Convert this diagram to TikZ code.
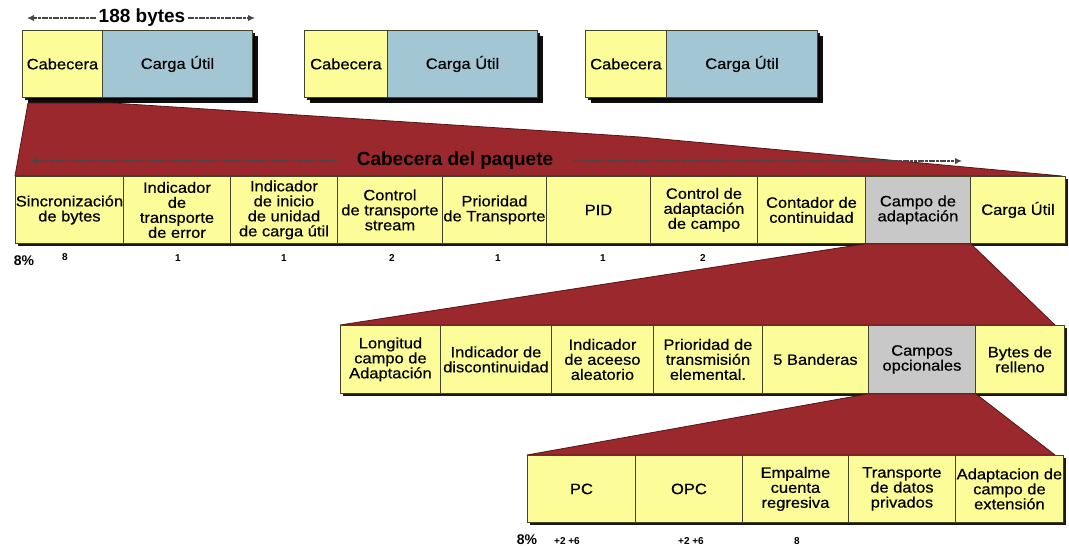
\documentclass[tikz,border=0pt]{standalone}
\usepackage{fontspec}
\setmainfont{Liberation Sans}
\newfontfamily\fieldfont{Liberation Sans}[FakeStretch=1.1,FakeBold=0.5]
\usetikzlibrary{arrows.meta,shadows,calc}

\definecolor{fieldyellow}{RGB}{252,252,152}
\definecolor{payloadblue}{RGB}{163,198,212}
\definecolor{optgray}{RGB}{200,200,200}
\definecolor{zoomred}{RGB}{154,40,44}
\definecolor{edgeolive}{RGB}{68,68,44}

% \fieldbox{style}{name}{left}{top}{width}{height}{text}
\newcommand{\fieldbox}[7]{%
  \node[#1, minimum width=#5pt, minimum height=#6pt, anchor=north west]
    (#2) at (#3,#4) {#7};}

\begin{document}
\begin{tikzpicture}[x=1pt,y=-1pt,
  field/.style={draw=edgeolive, line width=0.9pt, fill=fieldyellow,
    inner sep=0pt, align=center,
    font=\fieldfont\fontsize{15}{15}\selectfont,
    drop shadow={shadow xshift=3pt, shadow yshift=-3pt, fill=black, opacity=0.9}},
  optfield/.style={field, fill=optgray},
  pktbox/.style={field, drop shadow={shadow xshift=6pt, shadow yshift=-6pt, fill=black, opacity=0.95}},
  pktload/.style={pktbox, fill=payloadblue},
  title/.style={font=\bfseries\fontsize{19}{19}\selectfont, inner sep=2pt},
  span/.style={line width=2.6pt, draw=black!72, dash pattern=on 3pt off 0.7pt,
    -{Latex[length=7pt,width=6.5pt]}},
  zoom/.style={fill=zoomred, draw=zoomred!55!black, line width=0.8pt, line join=round},
  count/.style={font=\bfseries\fontsize{10}{10}\selectfont, inner sep=0pt},
  pct/.style={font=\bfseries\fontsize{14}{14}\selectfont, inner sep=0pt}]

\useasboundingbox (0,0) rectangle (1069,546);
\fill[white] (0,0) rectangle (1069,546);

% ---- three transport packets --------------------------------------------
\fieldbox{pktbox}{h1}{22}{30}{80}{67}{Cabecera}
\fieldbox{pktload}{p1}{102}{30}{150}{67}{Carga Útil}
\fieldbox{pktbox}{h2}{304}{30}{83}{67}{Cabecera}
\fieldbox{pktload}{p2}{387}{30}{150}{67}{Carga Útil}
\fieldbox{pktbox}{h3}{585}{30}{81}{67}{Cabecera}
\fieldbox{pktload}{p3}{666}{30}{151}{67}{Carga Útil}

% packet length
\node[title, anchor=base] (bytes) at (142,23) {188 bytes};
\coordinate (bytesL) at (27,18);
\coordinate (bytesR) at (255,18);
\draw[span] (bytes.west |- bytesL) -- (bytesL);
\draw[span] (bytes.east |- bytesR) -- (bytesR);

% ---- header fields -------------------------------------------------------
% zoom wedge from packet header to header fields (drawn first, under boxes)
\coordinate (w1a) at (28,103);
\coordinate (w1b) at (112,103);
\coordinate (w1c) at (640,137);
\coordinate (w1d) at (1062,176);
\coordinate (w1e) at (15,176);
\fill[zoom] (w1a) -- (w1b) -- (w1c) -- (w1d) -- (w1e) -- cycle;

\node[title, anchor=base] (hdr) at (455,165) {Cabecera del paquete};
\coordinate (hdrL) at (30,161);
\coordinate (hdrR) at (962,161);
\draw[span] ($(hdr.west |- hdrL)+(-18,0)$) -- (hdrL);
\draw[span] ($(hdr.east |- hdrR)+(18,0)$) -- (hdrR);

\fieldbox{field}{sync}{15}{176}{108}{67}{Sincronización\\de bytes}
\fieldbox{field}{terr}{123}{176}{107}{67}{Indicador\\de\\transporte\\de error}
\fieldbox{field}{pusi}{230}{176}{107}{67}{Indicador\\de inicio\\de unidad\\de carga útil}
\fieldbox{field}{tsc}{337}{176}{105}{67}{Control\\de transporte\\stream}
\fieldbox{field}{tpri}{442}{176}{104}{67}{Prioridad\\de Transporte}
\fieldbox{field}{pid}{546}{176}{104}{67}{PID}
\fieldbox{field}{afc}{650}{176}{107}{67}{Control de\\adaptación\\de campo}
\fieldbox{field}{cc}{757}{176}{108}{67}{Contador de\\continuidad}
\fieldbox{optfield}{adf}{865}{176}{105}{67}{Campo de\\adaptación}
\fieldbox{field}{pay}{970}{176}{95}{67}{Carga Útil}

\node[pct] (pctA) at (24,261) {8\%};
\node[count] (nSync) at (65,257) {8};
\node[count] (nTerr) at (178,258) {1};
\node[count] (nPusi) at (284,258) {1};
\node[count] (nTsc)  at (392,258) {2};
\node[count] (nTpri) at (498,258) {1};
\node[count] (nPid)  at (603,258) {1};
\node[count] (nAfc)  at (703,258) {2};

% ---- adaptation field ----------------------------------------------------
\fill[zoom] (adf.south west) -- (adf.south east) -- (1055,325) -- (340,325) -- cycle;

\fieldbox{field}{alen}{340}{325}{100}{68}{Longitud\\campo de\\Adaptación}
\fieldbox{field}{disc}{440}{325}{111}{68}{Indicador de\\discontinuidad}
\fieldbox{field}{rai}{551}{325}{102}{68}{Indicador\\de aceeso\\aleatorio}
\fieldbox{field}{espi}{653}{325}{109}{68}{Prioridad de\\transmisión\\elemental.}
\fieldbox{field}{flags}{762}{325}{106}{68}{5 Banderas}
\fieldbox{optfield}{opt}{868}{325}{107}{68}{Campos\\opcionales}
\fieldbox{field}{stuff}{975}{325}{89}{68}{Bytes de\\relleno}

% ---- optional fields -----------------------------------------------------
\fill[zoom] (opt.south west) -- (opt.south east) -- (1055,455) -- (527,455) -- cycle;

\fieldbox{field}{pcr}{527}{455}{108}{67}{PC}
\fieldbox{field}{opcr}{635}{455}{107}{67}{OPC}
\fieldbox{field}{splice}{742}{455}{106}{67}{Empalme\\cuenta\\regresiva}
\fieldbox{field}{priv}{848}{455}{107}{67}{Transporte\\de datos\\privados}
\fieldbox{field}{ext}{955}{455}{108}{67}{Adaptacion de\\campo de\\extensión}

\node[pct] (pctB) at (527,540) {8\%};
\node[count] (nPcr)    at (567,541) {+2 +6};
\node[count] (nOpcr)   at (691,541) {+2 +6};
\node[count] (nSplice) at (797,541) {8};

\end{tikzpicture}
\end{document}
